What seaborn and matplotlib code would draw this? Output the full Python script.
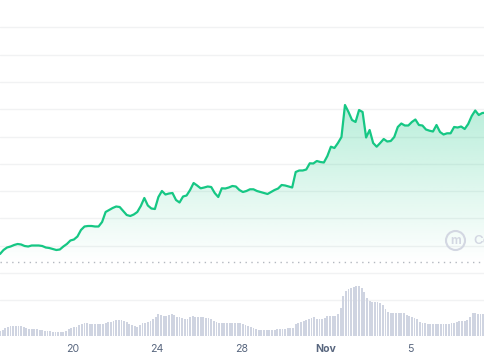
import numpy as np
import pandas as pd
import matplotlib
matplotlib.use("Agg")
import matplotlib.pyplot as plt
import matplotlib.dates as mdates
import seaborn as sns
from matplotlib.patches import Circle

# ---------------- data ----------------
price_start = "2023-10-16 13:24"
price_step = "4h"
price_usd = [
    0.146, 0.150, 0.1525, 0.1535, 0.155, 0.156, 0.1555, 0.154, 0.1535, 0.1545,
    0.1545, 0.1545, 0.154, 0.1525, 0.152, 0.151, 0.150, 0.1505, 0.1535, 0.156,
    0.1595, 0.1605, 0.1635, 0.170, 0.1735, 0.174, 0.174, 0.1735, 0.1735, 0.178,
    0.188, 0.190, 0.192, 0.1935, 0.193, 0.189, 0.185, 0.184, 0.1855, 0.188,
    0.194, 0.202, 0.1945, 0.1915, 0.191, 0.203, 0.209, 0.2055, 0.2065, 0.207,
    0.200, 0.1975, 0.2035, 0.2045, 0.210, 0.217, 0.2145, 0.2117, 0.2125, 0.2135,
    0.213, 0.207, 0.203, 0.2117, 0.2115, 0.2125, 0.214, 0.2135, 0.210, 0.208,
    0.209, 0.2107, 0.2107, 0.209, 0.208, 0.207, 0.206, 0.208, 0.210, 0.2115,
    0.215, 0.2145, 0.2135, 0.2125, 0.228, 0.2295, 0.2295, 0.2305, 0.2367, 0.2365,
    0.239, 0.238, 0.2375, 0.244, 0.2533, 0.252, 0.257, 0.263, 0.295, 0.288,
    0.280, 0.278, 0.290, 0.288, 0.2625, 0.270, 0.257, 0.2533, 0.257, 0.261,
    0.2585, 0.259, 0.263, 0.273, 0.2765, 0.2745, 0.2745, 0.278, 0.2805, 0.275,
    0.2745, 0.2705, 0.2693, 0.2685, 0.275, 0.268, 0.2655, 0.2667, 0.2667, 0.273,
    0.2725, 0.2735, 0.271, 0.276, 0.284, 0.2895, 0.285, 0.287, 0.2873,
]
baseline_usd = 0.1383

volume_start = "2023-10-16 13:24"
volume_step = "3h"
volume_m = [
    5, 6, 8, 9, 10, 10, 10.5, 10.5, 10.5, 9,
    8, 7.5, 7, 7, 7, 6.5, 6, 5.5, 5.5, 5,
    4.5, 4.5, 4.5, 4.5, 4.5, 5, 7.5, 8.5, 9, 9.5,
    11, 12.5, 13.3, 13.4, 12.5, 12, 12.5, 12.5, 11.7, 12,
    13, 14, 14.5, 15, 16, 16, 16, 15.5, 14, 12.5,
    10.7, 10, 9.4, 11, 12.7, 13.5, 14.5, 15.5, 16.7, 19,
    21.7, 21, 20, 20, 21, 21.7, 21, 19.5, 19, 18,
    17.5, 17.4, 19, 20, 19.5, 19.4, 19.4, 19, 18.4, 18,
    17.4, 15.5, 14, 13.5, 13.5, 13.4, 13.4, 13.4, 13, 13,
    12.7, 12.7, 12, 11.5, 10.5, 9.5, 8, 7, 6.5, 6,
    5.7, 5.7, 6, 6.2, 6.5, 6.7, 7, 7.2, 7.5, 7.7,
    8, 8.4, 12, 13.5, 14.5, 15, 16, 17, 18.5, 19,
    17.5, 16.7, 16.7, 18, 20.5, 20, 20, 20, 21.7, 28,
    40, 45, 47.5, 48.5, 49.4, 50, 50, 48.5, 44, 38,
    35, 34, 34, 34, 33.5, 31, 26.7, 24.5, 23.4, 23,
    23.4, 23, 23.4, 23, 21, 20, 19, 18.4, 17, 14.5,
    13.5, 12.7, 12.4, 12, 12, 11.7, 11.7, 11.7, 12, 12,
    12.2, 12.7, 13, 14, 15, 15, 15, 16, 19, 23.4,
    23, 22, 21.7, 21.7, 21.7,
]

tick_days = ["2023-10-20", "2023-10-24", "2023-10-28", "2023-11-01", "2023-11-05"]
tick_labels = ["20", "24", "28", "Nov", "5"]
x_range = ["2023-10-16 13:24", "2023-11-08 12:30"]

# ---------------- styling ----------------
LINE = "#16c784"
VOL = "#cfd4e1"
GRID = "#f1f2f3"
TEXT = "#58667e"

sns.set_theme(style="white")
plt.rcParams["font.family"] = ["Inter", "DejaVu Sans"]

price_time = pd.date_range(price_start, periods=len(price_usd), freq=price_step)
vol_time = pd.date_range(volume_start, periods=len(volume_m), freq=volume_step)
df_price = pd.DataFrame({"time": price_time, "price": price_usd})

fig = plt.figure(figsize=(4.85, 3.60), dpi=100)
ax = fig.add_axes([0, 24 / 360, 1, 336 / 360])
ax.set_facecolor("white")

y_top, y_bot = 0.400, 0.064
ax.set_ylim(y_bot, y_top)
xlim = pd.to_datetime(x_range)
ax.set_xlim(xlim[0], xlim[1])

# grid lines
grid_vals = [y_top - 0.0273 * k for k in range(1, 12)]
for g in grid_vals:
    ax.axhline(g, color=GRID, lw=1.0, zorder=0)

# dotted baseline
ax.axhline(baseline_usd, color="#b4b8c0", lw=1.0, ls=(0, (1, 3.2)), zorder=1)

# gradient fill under the price line
poly = ax.fill_between(price_time, price_usd, baseline_usd, color="none", lw=0)
xnum = mdates.date2num(price_time)
n = 256
rgba = np.zeros((n, 1, 4))
g = np.array([22, 199, 132]) / 255.0
rgba[:, 0, :3] = g
rgba[:, 0, 3] = np.linspace(0.0, 0.30, n)
img = ax.imshow(rgba, extent=[xnum[0], xnum[-1], baseline_usd, max(price_usd)],
                origin="lower", aspect="auto", zorder=2, interpolation="bilinear")
img.set_clip_path(poly.get_paths()[0], transform=ax.transData)

# price line
sns.lineplot(data=df_price, x="time", y="price", ax=ax, color=LINE, lw=1.6,
             zorder=3, estimator=None)

ax.set_ylim(y_bot, y_top)
ax.set_xlim(xlim[0], xlim[1])
ax.set_xlabel("")
ax.set_ylabel("")
ax.set_yticks([])

# volume on twin axis
axv = ax.twinx()
axv.bar(vol_time, volume_m, width=pd.Timedelta(hours=2.1), color=VOL, lw=0, zorder=1)
axv.set_ylim(0, 336)
axv.set_yticks([])
axv.set_xlim(xlim[0], xlim[1])

for a in (ax, axv):
    for s in a.spines.values():
        s.set_visible(False)

ax.set_xticks(pd.to_datetime(tick_days))
ax.set_xticklabels(tick_labels)
ax.tick_params(axis="x", length=0, pad=5.5, labelsize=7.6, labelcolor=TEXT)
for lab in ax.get_xticklabels():
    if lab.get_text() == "Nov":
        lab.set_fontweight("bold")

# watermark
fig.patches.append(Circle((455.5 / 100, (360 - 240.5) / 100), 0.095,
                          transform=fig.dpi_scale_trans, fill=False,
                          ec="#d3d7e2", lw=1.5, zorder=5))
fig.text(455.5 / 485, (360 - 240.5) / 360, "m", color="#d3d7e2", fontsize=8.5,
         fontweight="bold", ha="center", va="center")
fig.text(473.5 / 485, (360 - 240.5) / 360, "CoinGecko", color="#d3d7e2",
         fontsize=9.5, fontweight="semibold", ha="left", va="center")

fig.savefig("out.png", dpi=100, facecolor="white")
